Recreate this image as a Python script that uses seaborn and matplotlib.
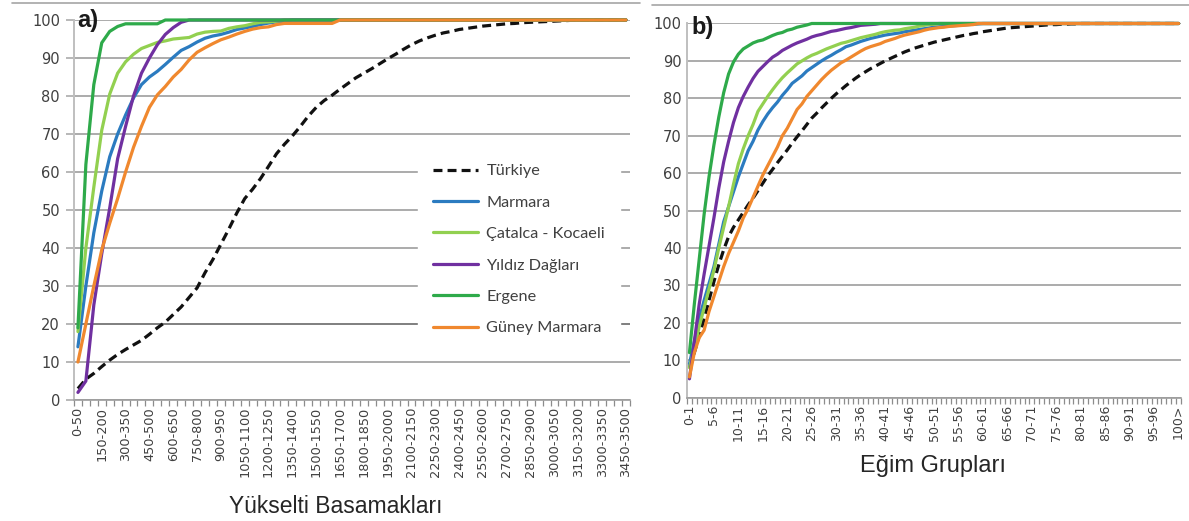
import matplotlib
matplotlib.use("Agg")
import matplotlib.pyplot as plt
import seaborn as sns
import numpy as np
import pandas as pd
from matplotlib.lines import Line2D
from matplotlib.ticker import FixedLocator

# ---------------- DATA ----------------
series_names = ["Türkiye", "Marmara", "Çatalca - Kocaeli", "Yıldız Dağları", "Ergene", "Güney Marmara"]
series_colors = ["#111111", "#2B7BC0", "#92D050", "#7030A0", "#2EAA4A", "#F0882E"]

# a) elevation classes (0-50 ... 3450-3500)
elev_categories = [f"{a}-{a + 50}" for a in range(0, 3500, 50)]

elev_turkiye = [3, 5.5, 7, 8.8, 10.5, 12, 13.3, 14.5, 15.7, 17.3,
                19, 20.5, 22.5, 24.5, 27, 29.5, 33.5, 37, 41, 45,
                49.2, 53, 55.5, 58.3, 61.5, 64.8, 67.3, 69.5, 72, 74.7,
                77, 78.8, 80.2, 81.8, 83.3, 84.8, 86, 87.2, 88.5, 89.8,
                91, 92.3, 93.5, 94.5, 95.3, 96, 96.6, 97, 97.5, 97.8,
                98.1, 98.4, 98.6, 98.8, 99, 99.1, 99.3, 99.4, 99.5, 99.6,
                99.7, 99.8, 99.9, 100, 100, 100, 100, 100, 100, 100]
elev_marmara = [14, 30, 44, 55, 64, 70, 75, 79.5, 83, 85,
                86.5, 88.3, 90.2, 92, 93, 94.2, 95.2, 95.8, 96.2, 96.8,
                97.5, 97.9, 98.3, 98.8, 99.2, 99.5, 99.7, 100, 100, 100,
                100, 100, 100, 100, 100, 100, 100, 100, 100, 100,
                100, 100, 100, 100, 100, 100, 100, 100, 100, 100,
                100, 100, 100, 100, 100, 100, 100, 100, 100, 100,
                100, 100, 100, 100, 100, 100, 100, 100, 100, 100]
elev_catalca = [18, 40, 56, 71, 80.5, 86, 89, 91, 92.5, 93.3,
                94.1, 94.5, 95, 95.2, 95.4, 96.3, 96.8, 97, 97.1, 97.8,
                98.2, 98.5, 99, 99.4, 99.5, 99.7, 100, 100, 100, 100,
                100, 100, 100, 100, 100, 100, 100, 100, 100, 100,
                100, 100, 100, 100, 100, 100, 100, 100, 100, 100,
                100, 100, 100, 100, 100, 100, 100, 100, 100, 100,
                100, 100, 100, 100, 100, 100, 100, 100, 100, 100]
elev_yildiz = [2, 5, 25, 38.5, 50.5, 63.5, 72, 80, 86, 90,
               93.5, 96.2, 98, 99.4, 100, 100, 100, 100, 100, 100,
               100, 100, 100, 100, 100, 100, 100, 100, 100, 100,
               100, 100, 100, 100, 100, 100, 100, 100, 100, 100,
               100, 100, 100, 100, 100, 100, 100, 100, 100, 100,
               100, 100, 100, 100, 100, 100, 100, 100, 100, 100,
               100, 100, 100, 100, 100, 100, 100, 100, 100, 100]
elev_ergene = [19, 62, 83, 94, 97, 98.3, 99, 99, 99, 99,
               99, 100, 100, 100, 100, 100, 100, 100, 100, 100,
               100, 100, 100, 100, 100, 100, 100, 100, 100, 100,
               100, 100, 100, 100, 100, 100, 100, 100, 100, 100,
               100, 100, 100, 100, 100, 100, 100, 100, 100, 100,
               100, 100, 100, 100, 100, 100, 100, 100, 100, 100,
               100, 100, 100, 100, 100, 100, 100, 100, 100, 100]
elev_guney = [10, 20, 30, 39.5, 46.5, 53, 60, 66.5, 72, 77,
              80.3, 82.5, 85, 87, 89.5, 91.5, 92.7, 93.8, 94.8, 95.5,
              96.3, 97, 97.6, 98, 98.2, 98.8, 99.1, 99.1, 99.1, 99.1,
              99.1, 99.1, 99.1, 100, 100, 100, 100, 100, 100, 100,
              100, 100, 100, 100, 100, 100, 100, 100, 100, 100,
              100, 100, 100, 100, 100, 100, 100, 100, 100, 100,
              100, 100, 100, 100, 100, 100, 100, 100, 100, 100]

# b) slope classes (0-1 ... 99-100, 100>)
slope_categories = [f"{a}-{a + 1}" for a in range(0, 100)] + ["100>"]

slope_turkiye = [8, 12, 16.5, 21, 26, 31, 35.5, 39.5, 43, 45.5,
                 47.5, 49.5, 51.5, 53.3, 55.3, 57.3, 59.3, 61, 62.8, 64.5,
                 66.2, 68, 69.7, 71.3, 73, 74.7, 76, 77.4, 78.7, 80,
                 81.2, 82.3, 83.4, 84.4, 85.4, 86.3, 87.1, 87.9, 88.6, 89.3,
                 90, 90.6, 91.2, 91.8, 92.4, 92.9, 93.4, 93.8, 94.2, 94.6,
                 95, 95.3, 95.6, 95.9, 96.2, 96.5, 96.8, 97, 97.3, 97.5,
                 97.8, 98, 98.2, 98.4, 98.6, 98.8, 98.9, 99, 99.1, 99.2,
                 99.3, 99.4, 99.5, 99.6, 99.7, 99.7, 99.8, 99.8, 99.9, 99.9,
                 100, 100, 100, 100, 100, 100, 100, 100, 100, 100,
                 100, 100, 100, 100, 100, 100, 100, 100, 100, 100, 100]
slope_marmara = [9, 15, 21, 26, 30.5, 35, 41, 47, 51, 55,
                 59, 62.5, 66, 68.5, 71.5, 73.8, 75.8, 77.5, 79, 80.8,
                 82.3, 84, 85, 86, 87.3, 88.2, 89.1, 90, 90.8, 91.5,
                 92.3, 93, 93.8, 94.2, 94.7, 95.2, 95.6, 96, 96.3, 96.6,
                 96.9, 97.1, 97.3, 97.5, 97.8, 98, 98.2, 98.4, 98.6, 98.8,
                 99, 99.1, 99.2, 99.3, 99.4, 99.5, 99.6, 99.7, 99.8, 99.9,
                 100, 100, 100, 100, 100, 100, 100, 100, 100, 100,
                 100, 100, 100, 100, 100, 100, 100, 100, 100, 100,
                 100, 100, 100, 100, 100, 100, 100, 100, 100, 100,
                 100, 100, 100, 100, 100, 100, 100, 100, 100, 100, 100]
slope_catalca = [8, 13, 19, 24, 29, 34, 40, 45.5, 51, 57,
                 62.5, 66.5, 70, 73, 76.5, 78.5, 80.5, 82.3, 84, 85.5,
                 86.8, 88, 89.2, 90, 90.8, 91.5, 92, 92.6, 93.2, 93.7,
                 94.2, 94.7, 95, 95.4, 95.8, 96.2, 96.5, 96.8, 97.1, 97.5,
                 97.8, 98, 98.2, 98.3, 98.6, 98.8, 99, 99.3, 99.5, 99.7,
                 99.8, 100, 100, 100, 100, 100, 100, 100, 100, 100,
                 100, 100, 100, 100, 100, 100, 100, 100, 100, 100,
                 100, 100, 100, 100, 100, 100, 100, 100, 100, 100,
                 100, 100, 100, 100, 100, 100, 100, 100, 100, 100,
                 100, 100, 100, 100, 100, 100, 100, 100, 100, 100, 100]
slope_yildiz = [5, 15, 25, 33, 40.5, 48, 56, 63, 68.5, 73.5,
                77.5, 80.5, 83, 85.3, 87.2, 88.5, 89.8, 91, 91.8, 92.8,
                93.5, 94.2, 94.8, 95.3, 95.8, 96.4, 96.8, 97.1, 97.5, 97.9,
                98.1, 98.4, 98.7, 98.9, 99.2, 99.5, 99.6, 99.7, 99.8, 100,
                100, 100, 100, 100, 100, 100, 100, 100, 100, 100,
                100, 100, 100, 100, 100, 100, 100, 100, 100, 100,
                100, 100, 100, 100, 100, 100, 100, 100, 100, 100,
                100, 100, 100, 100, 100, 100, 100, 100, 100, 100,
                100, 100, 100, 100, 100, 100, 100, 100, 100, 100,
                100, 100, 100, 100, 100, 100, 100, 100, 100, 100, 100]
slope_ergene = [12, 25, 37, 49, 59, 67.5, 75, 81.5, 86.5, 89.7,
                91.8, 93.2, 94, 94.8, 95.3, 95.6, 96.2, 96.8, 97.3, 97.6,
                98.2, 98.5, 99, 99.3, 99.6, 100, 100, 100, 100, 100,
                100, 100, 100, 100, 100, 100, 100, 100, 100, 100,
                100, 100, 100, 100, 100, 100, 100, 100, 100, 100,
                100, 100, 100, 100, 100, 100, 100, 100, 100, 100,
                100, 100, 100, 100, 100, 100, 100, 100, 100, 100,
                100, 100, 100, 100, 100, 100, 100, 100, 100, 100,
                100, 100, 100, 100, 100, 100, 100, 100, 100, 100,
                100, 100, 100, 100, 100, 100, 100, 100, 100, 100, 100]
slope_guney = [5.5, 12, 16, 18, 23, 27, 31, 35, 38.5, 41.5,
               44.5, 48, 50.5, 53.5, 56.5, 59.5, 62, 64.5, 67, 70,
               72, 74.5, 77, 78.5, 80.5, 82, 83.5, 85, 86.3, 87.5,
               88.5, 89.5, 90.2, 91, 91.8, 92.6, 93.3, 93.8, 94.2, 94.6,
               95.2, 95.6, 96, 96.5, 96.9, 97.2, 97.5, 97.8, 98.2, 98.5,
               98.7, 98.9, 99, 99.2, 99.3, 99.4, 99.5, 99.6, 99.7, 100,
               100, 100, 100, 100, 100, 100, 100, 100, 100, 100,
               100, 100, 100, 100, 100, 100, 100, 100, 100, 100,
               100, 100, 100, 100, 100, 100, 100, 100, 100, 100,
               100, 100, 100, 100, 100, 100, 100, 100, 100, 100, 100]

elev_series = [elev_turkiye, elev_marmara, elev_catalca, elev_yildiz, elev_ergene, elev_guney]
slope_series = [slope_turkiye, slope_marmara, slope_catalca, slope_yildiz, slope_ergene, slope_guney]

y_ticks = list(range(0, 101, 10))

# ---------------- STYLE ----------------
sns.set_style("white")
plt.rcParams["font.family"] = ["DejaVu Sans"]

TXT = "#404040"
GRID = "#ABABAB"

fig = plt.figure(figsize=(11.89, 5.21), dpi=100)
axL = fig.add_axes([0.0622, 0.2322, 0.4676, 0.7294])
axR = fig.add_axes([0.5778, 0.2370, 0.4155, 0.7179])


def draw_panel(ax, cats, series, label_step, tick_fs, ytick_len):
    x = np.arange(len(cats))
    for name, vals, col in zip(series_names, series, series_colors):
        df = pd.DataFrame({"x": x, "y": vals})
        ls = (0, (2.8, 1.6)) if name == "Türkiye" else "-"
        sns.lineplot(data=df, x="x", y="y", ax=ax, color=col, lw=2.3,
                     linestyle=ls, label=name, estimator=None, sort=False,
                     clip_on=False, zorder=3)
    ax.set_xlim(-0.5, len(cats) - 0.5)
    ax.set_ylim(0, 100)
    major = list(range(0, len(cats), label_step))
    ax.set_xticks(major)
    ax.set_xticklabels([cats[i] for i in major], rotation=90,
                       fontsize=tick_fs, color=TXT)
    ax.xaxis.set_minor_locator(FixedLocator(np.arange(-0.5, len(cats), 1)))
    ax.tick_params(axis="x", which="major", length=0, pad=5, bottom=True)
    ax.tick_params(axis="x", which="minor", length=4, width=0.9,
                   color="#8C8C8C", bottom=True, direction="out")
    ax.set_yticks(y_ticks)
    ax.tick_params(axis="y", which="major", length=ytick_len, width=1.2,
                   color=GRID, left=True, labelsize=10.5, labelcolor=TXT, pad=4)
    ax.grid(axis="y", color=GRID, lw=1.4, zorder=0)
    ax.grid(axis="x", visible=False)
    ax.set_axisbelow(True)
    for s in ("top", "right"):
        ax.spines[s].set_visible(False)
    ax.spines["left"].set_color("#BFBFBF")
    ax.spines["left"].set_linewidth(1.4)
    ax.spines["bottom"].set_color("#9C9C9C")
    ax.spines["bottom"].set_linewidth(1.2)
    ax.set_ylabel("")
    leg = ax.get_legend()
    if leg is not None:
        leg.remove()


draw_panel(axL, elev_categories, elev_series, 3, 9.3, 6)
draw_panel(axR, slope_categories, slope_series, 5, 9, 0)

# darker 20 gridline in panel a)
axL.yaxis.get_gridlines()[2].set_color("#7F7F7F")

# axis titles
axL.set_xlabel("Yükselti Basamakları", fontsize=16.5, color="#262626",
               family="Liberation Sans")
axL.xaxis.set_label_coords(0.47, -0.25)
axR.set_xlabel("Eğim Grupları", fontsize=17, color="#262626",
               family="Liberation Sans")
axR.xaxis.set_label_coords(0.498, -0.155)

# panel letters
axL.text(0.006, 1.0, "a)", transform=axL.transAxes, fontsize=17,
         fontweight="bold", color="#1A1A1A", va="center", ha="left",
         family="Liberation Sans")
axR.text(0.01, 0.99, "b)", transform=axR.transAxes, fontsize=17,
         fontweight="bold", color="#1A1A1A", va="center", ha="left",
         family="Liberation Sans")

# legend in panel a)
handles, labels = axL.get_legend_handles_labels()
leg = axL.legend(handles[:6], labels[:6], loc="upper left",
                 bbox_to_anchor=(0.619, 0.66), frameon=True,
                 facecolor="white", edgecolor="white", framealpha=1,
                 fancybox=False, handlelength=2.8, handletextpad=0.5,
                 labelspacing=1.05, borderpad=0.9, borderaxespad=0,
                 prop={"family": "Lato", "size": 11.7})
for t in leg.get_texts():
    t.set_color(TXT)
leg.set_zorder(5)

# chart-area top borders
fig.add_artist(Line2D([12 / 1189, 640 / 1189], [1 - 3 / 521, 1 - 3 / 521],
                      color="#A6A6A6", lw=1.2))
fig.add_artist(Line2D([652 / 1189, 1.0], [1 - 5 / 521, 1 - 5 / 521],
                      color="#A6A6A6", lw=1.2))

fig.savefig("out.png", dpi=100, facecolor="white")
